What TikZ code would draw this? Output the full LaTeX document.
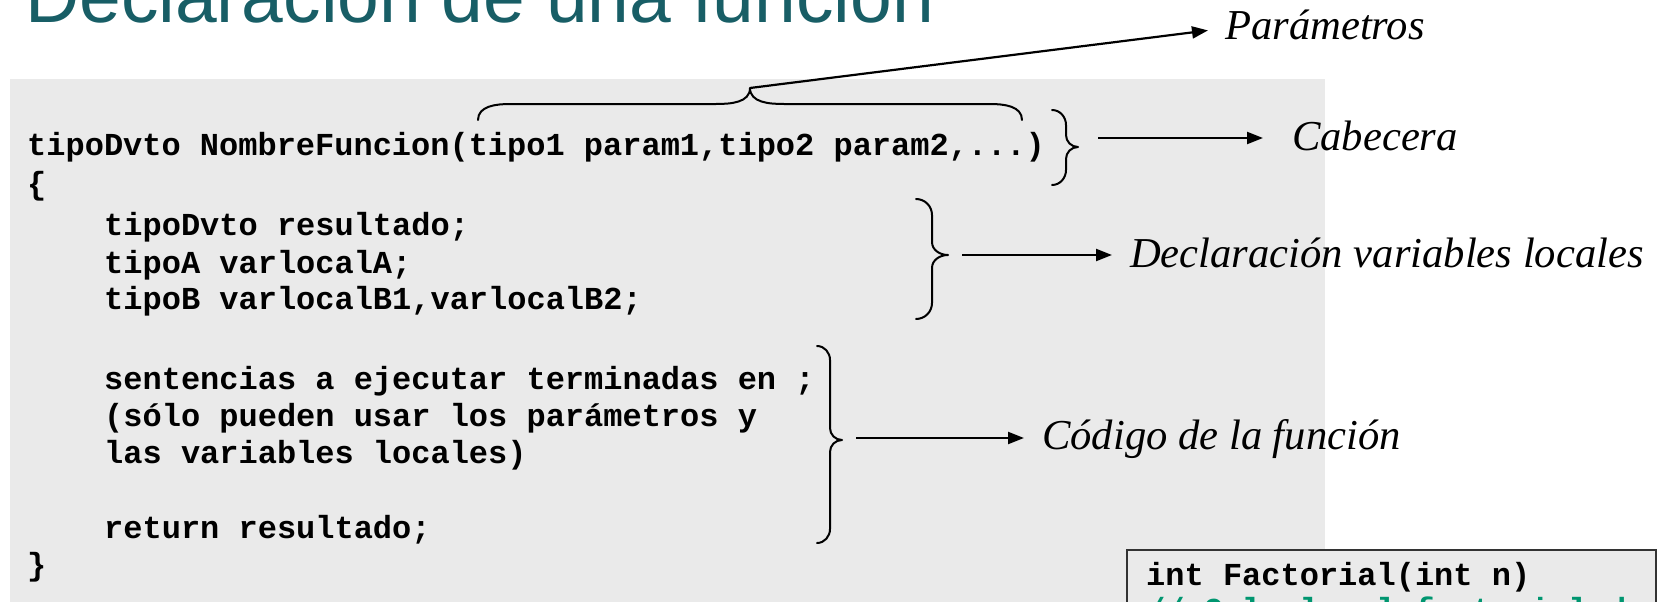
\documentclass[tikz,border=0pt]{standalone}
\usepackage{fontspec}
\setmainfont{Liberation Serif}
\newfontfamily\codefont{Liberation Mono}
\newfontfamily\titlefont{Liberation Sans}
\usetikzlibrary{arrows.meta}
\definecolor{panelgray}{RGB}{234,234,234}
\definecolor{titleteal}{RGB}{24,94,102}
\definecolor{commentgreen}{RGB}{0,150,112}
\begin{document}
\begin{tikzpicture}[x=1pt,y=-1pt,
  codeline/.style={font=\codefont\bfseries\fontsize{32}{36}\selectfont,
                   anchor=base west, inner sep=0pt},
  tag/.style={font=\itshape\fontsize{42.6}{48}\selectfont,
              anchor=base west, inner ysep=0pt, inner xsep=18pt},
  brc/.style={line width=2pt, line join=round, line cap=round},
  arr/.style={line width=2.2pt, -{Triangle[length=16pt,width=12pt]}}]
\useasboundingbox (0,0) rectangle (1666,602);
\clip (0,0) rectangle (1666,602);

% background panel of the code
\fill[panelgray] (10,79) rectangle (1325,602);

% title
\node[anchor=base west, inner sep=0pt, text=titleteal,
      font=\titlefont\fontsize{75}{80}\selectfont] (title) at (25,23)
      {Declaración de una función};

% general form of a function
\node[codeline] (l0)  at (27,155) {tipoDvto NombreFuncion(tipo1 param1,tipo2 param2,...)};
\node[codeline] (l1)  at (27,194) {\{};
\node[codeline] (l2)  at (104,235) {tipoDvto resultado;};
\node[codeline] (l3)  at (104,273) {tipoA varlocalA;};
\node[codeline] (l4)  at (104,309) {tipoB varlocalB1,varlocalB2;};
\node[codeline] (l5)  at (104,389) {sentencias a ejecutar terminadas en ;};
\node[codeline] (l6)  at (104,426) {(sólo pueden usar los parámetros y};
\node[codeline] (l7)  at (104,463) {las variables locales)};
\node[codeline] (l8)  at (104,538) {return resultado;};
\node[codeline] (l9)  at (27,575) {\}};

% brace over the parameter list
\draw[brc] (478,120) to[out=90,in=180] (510,104) -- (716,104)
  to[out=0,in=-90] (750,88) to[out=-90,in=180] (784,104) -- (990,104)
  to[out=0,in=90] (1022,120);
\coordinate (parS) at (750,88);

% brace of the header
\draw[brc] (1052,110) to[out=0,in=90] (1066,125) -- (1066,135)
  to[out=-90,in=180] (1078,147) to[out=180,in=90] (1066,159) -- (1066,170)
  to[out=-90,in=0] (1052,185);
\coordinate (cabS) at (1098,138);

% brace of the local declarations
\draw[brc] (916,199) to[out=0,in=90] (932,215) -- (932,242)
  to[out=-90,in=180] (948,255) to[out=180,in=90] (932,268) -- (932,303)
  to[out=-90,in=0] (916,319);
\coordinate (decS) at (962,255);

% brace of the body
\draw[brc] (817,346) to[out=0,in=90] (830,360) -- (830,428)
  to[out=-90,in=180] (842,440) to[out=180,in=90] (830,452) -- (830,529)
  to[out=-90,in=0] (817,543);
\coordinate (codS) at (856,438);

% labels
\node[tag, inner xsep=17pt] (par) at (1208,40) {Parámetros};
\node[tag, inner xsep=29pt] (cab) at (1263,150) {Cabecera};
\node[tag] (dec) at (1112,267) {Declaración variables locales};
\node[tag] (cod) at (1024,449) {Código de la función};

\draw[arr] (parS) -- ([yshift=-5pt]par.west);
\draw[arr] (cabS) -- (cabS -| cab.west);
\draw[arr] (decS) -- (decS -| dec.west);
\draw[arr] (codS) -- (codS -| cod.west);

% example box
\draw[line width=2pt, draw=black!80, fill=panelgray] (1127,550) rectangle (1656,660);
\node[codeline] (fdecl) at (1146,585) {int Factorial(int n)};
\node[codeline, text=commentgreen] (fcom) at (1146,620) {// Calcula el factorial de n};
\end{tikzpicture}
\end{document}
